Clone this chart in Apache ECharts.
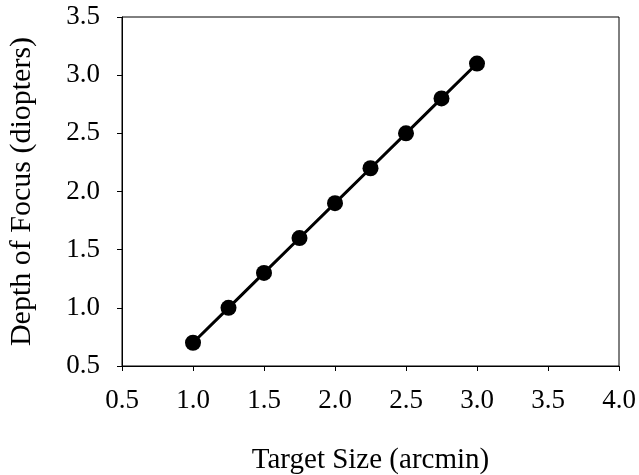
<!DOCTYPE html>
<html><head><meta charset="utf-8">
<script src="https://cdn.jsdelivr.net/npm/echarts@6/dist/echarts.min.js"></script>
<style>html,body{margin:0;padding:0;background:#fff}#c{width:639px;height:475px}</style>
</head><body><div id="c"></div>
<script>
var targetSize = [1.0, 1.25, 1.5, 1.75, 2.0, 2.25, 2.5, 2.75, 3.0];
var depthOfFocus = [0.7, 1.0, 1.3, 1.6, 1.9, 2.2, 2.5, 2.8, 3.1];
var xTitle = 'Target Size (arcmin)';
var yTitle = 'Depth of Focus (diopters)';
var font = 'Liberation Serif';
var chart = echarts.init(document.getElementById('c'));
chart.setOption({
  animation: false,
  backgroundColor: '#fff',
  grid: {left: 122, top: 17, right: 20, bottom: 109, show: true, borderColor: '#000', borderWidth: 1,
         containLabel: false, outerBoundsMode: 'none'},
  xAxis: {
    type: 'value', min: 0.5, max: 4.0, interval: 0.5,
    name: xTitle, nameLocation: 'middle', nameGap: 80,
    nameTextStyle: {color: '#000', fontFamily: font, fontSize: 29},
    axisLine: {lineStyle: {color: '#000', width: 1}},
    axisTick: {inside: false, length: 5, lineStyle: {color: '#000'}},
    splitLine: {show: false},
    axisLabel: {color: '#000', fontFamily: font, fontSize: 27, margin: 21, formatter: function(v){return v.toFixed(1);}}
  },
  yAxis: {
    type: 'value', min: 0.5, max: 3.5, interval: 0.5,
    name: yTitle, nameLocation: 'middle', nameGap: 85, nameRotate: 90,
    nameTextStyle: {color: '#000', fontFamily: font, fontSize: 30},
    axisLine: {show: true, lineStyle: {color: '#000', width: 1}},
    axisTick: {show: true, inside: false, length: 5, lineStyle: {color: '#000'}},
    splitLine: {show: false},
    axisLabel: {color: '#000', fontFamily: font, fontSize: 27, margin: 22, formatter: function(v){return v.toFixed(1);}}
  },
  series: [{
    type: 'line',
    data: targetSize.map(function(x, i){return [x, depthOfFocus[i]];}),
    symbol: 'circle', symbolSize: 16,
    itemStyle: {color: '#000'},
    lineStyle: {color: '#000', width: 3}
  }]
});
</script></body></html>
